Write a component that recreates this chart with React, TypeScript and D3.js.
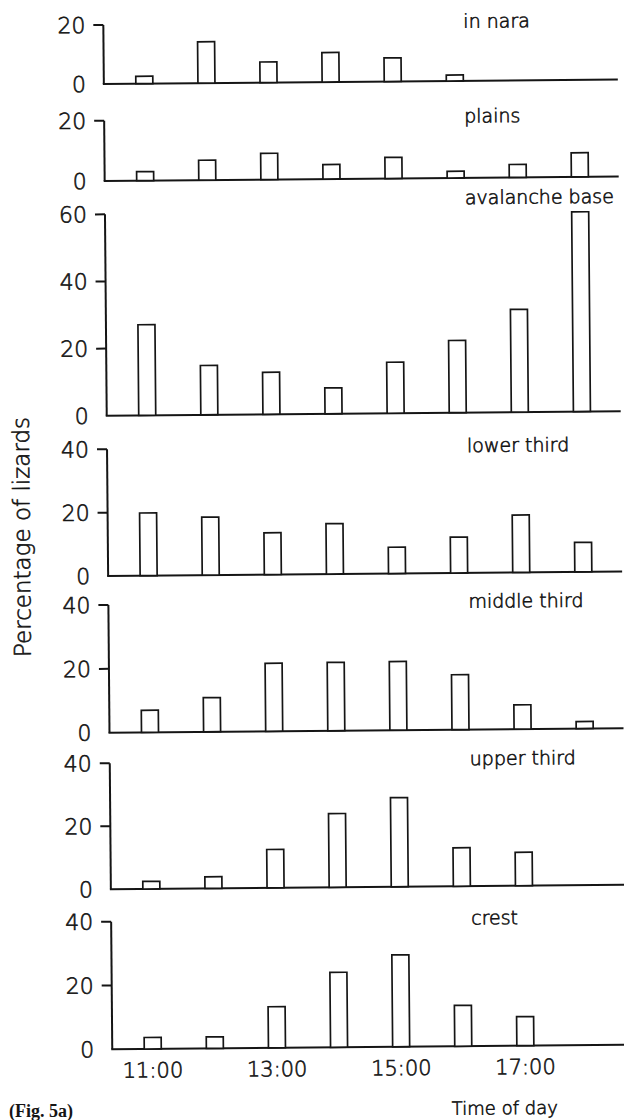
import React from "react";
import * as d3 from "d3";

// ---- data ----
const hours = ["11:00", "12:00", "13:00", "14:00", "15:00", "16:00", "17:00", "18:00"];
const labelledHours = ["11:00", "13:00", "15:00", "17:00"];

const inNara = [2.5, 14, 7, 10, 8, 2, null, null];
const plains = [3, 6.6, 8.7, 4.8, 7, 2.2, 4.3, 8];
const avalancheBase = [27, 14.7, 12.5, 7.7, 15.2, 21.5, 30.6, 59.5];
const lowerThird = [19.8, 18.3, 13.2, 15.9, 8.3, 11.3, 18.1, 9.3];
const middleThird = [6.9, 10.7, 21.3, 21.4, 21.5, 17.2, 7.6, 2.2];
const upperThird = [2.4, 3.7, 12.2, 23.4, 28.3, 12.2, 10.6, null];
const crest = [3.6, 3.6, 12.9, 23.5, 28.8, 12.8, 9.1, null];

const panelTitles = ["in nara", "plains", "avalanche base", "lower third", "middle third", "upper third", "crest"];
const panelMax = [20, 20, 60, 40, 40, 40, 40];
const panelTicks = [
  [0, 20],
  [0, 20],
  [0, 20, 40, 60],
  [0, 20, 40],
  [0, 20, 40],
  [0, 20, 40],
  [0, 20, 40],
];
const panelSeries = [inNara, plains, avalancheBase, lowerThird, middleThird, upperThird, crest];

// ---- layout (pixels) ----
const W = 624;
const H = 1120;
const axisX = 108;
const rightX = 622;
const panelLayout = [
  { top: 23.2, base: 82.2, titleDy: 6 },
  { top: 118.9, base: 179.2, titleDy: 5 },
  { top: 212.5, base: 413.9, titleDy: -7 },
  { top: 447.5, base: 574.2, titleDy: 6 },
  { top: 603.2, base: 730.9, titleDy: 6 },
  { top: 761.5, base: 887.5, titleDy: 5 },
  { top: 919.9, base: 1047.5, titleDy: 6 },
];
const ink = "#151515";
const sans = "'DejaVu Sans', sans-serif";
const textStyle = { fontFamily: sans, fontWeight: 300, stroke: ink, strokeWidth: 0.6 } as const;

export default function App() {
  const step = 62.1;
  const x = d3
    .scaleBand<string>()
    .domain(hours)
    .range([axisX + 9.45, axisX + 9.45 + step * hours.length])
    .paddingInner(0.726)
    .paddingOuter(0.363);

  return (
    <svg
      width={W}
      height={H}
      viewBox={`0 0 ${W} ${H}`}
      style={{ position: "absolute", left: 0, top: 0, background: "#fff" }}
    >
      <rect x={0} y={0} width={W} height={H} fill="#fff" />
      <g transform="rotate(-0.5 312 560)">
        {panelSeries.map((vals, pi) => {
          const lay = panelLayout[pi];
          const y = d3.scaleLinear().domain([0, panelMax[pi]]).range([lay.base, lay.top]);
          return (
            <g key={pi}>
              {/* axes */}
              <line x1={axisX} x2={axisX} y1={y(panelMax[pi])} y2={y(0)} stroke={ink} strokeWidth={2} />
              <line x1={axisX - 1} x2={rightX} y1={y(0)} y2={y(0)} stroke={ink} strokeWidth={2} />
              {panelTicks[pi].map((t) => (
                <g key={t}>
                  {t !== 0 && (
                    <line x1={axisX - 10} x2={axisX} y1={y(t)} y2={y(t)} stroke={ink} strokeWidth={2} />
                  )}
                  <text
                    x={axisX - 18}
                    y={y(t)}
                    dy="0.36em"
                    textAnchor="end"
                    {...textStyle}
                    fontSize={22}
                    fill={ink}
                  >
                    {t}
                  </text>
                </g>
              ))}
              {/* bars */}
              {vals.map((v, i) =>
                v == null ? null : (
                  <rect
                    key={i}
                    x={x(hours[i])}
                    y={y(v)}
                    width={x.bandwidth()}
                    height={y(0) - y(v)}
                    fill="#fff"
                    stroke={ink}
                    strokeWidth={1.7}
                  />
                )
              )}
              {/* title */}
              <text
                x={468}
                y={y(panelMax[pi]) + lay.titleDy}
                {...textStyle}
                fontSize={19}
                fill={ink}
              >
                {panelTitles[pi]}
              </text>
              {/* time labels on last panel */}
              {pi === panelSeries.length - 1 &&
                labelledHours.map((h) => (
                  <text
                    key={h}
                    x={(x(h) as number) + x.bandwidth() / 2}
                    y={y(0) + 28.5}
                    textAnchor="middle"
                    {...textStyle}
                    fontSize={21}
                    fill={ink}
                  >
                    {h}
                  </text>
                ))}
            </g>
          );
        })}
        <text x={500} y={1116} textAnchor="middle" {...textStyle} fontSize={18} fill={ink}>
          Time of day
        </text>
        <text
          transform={`translate(30,534.5) rotate(-90)`}
          textAnchor="middle"
          {...textStyle}
          fontSize={23}
          fill={ink}
        >
          Percentage of lizards
        </text>
      </g>
      <text
        x={9}
        y={1117}
        fontFamily="'Liberation Serif', serif"
        fontWeight="bold"
        fontSize={18}
        fill={ink}
      >
        (Fig. 5a)
      </text>
    </svg>
  );
}
